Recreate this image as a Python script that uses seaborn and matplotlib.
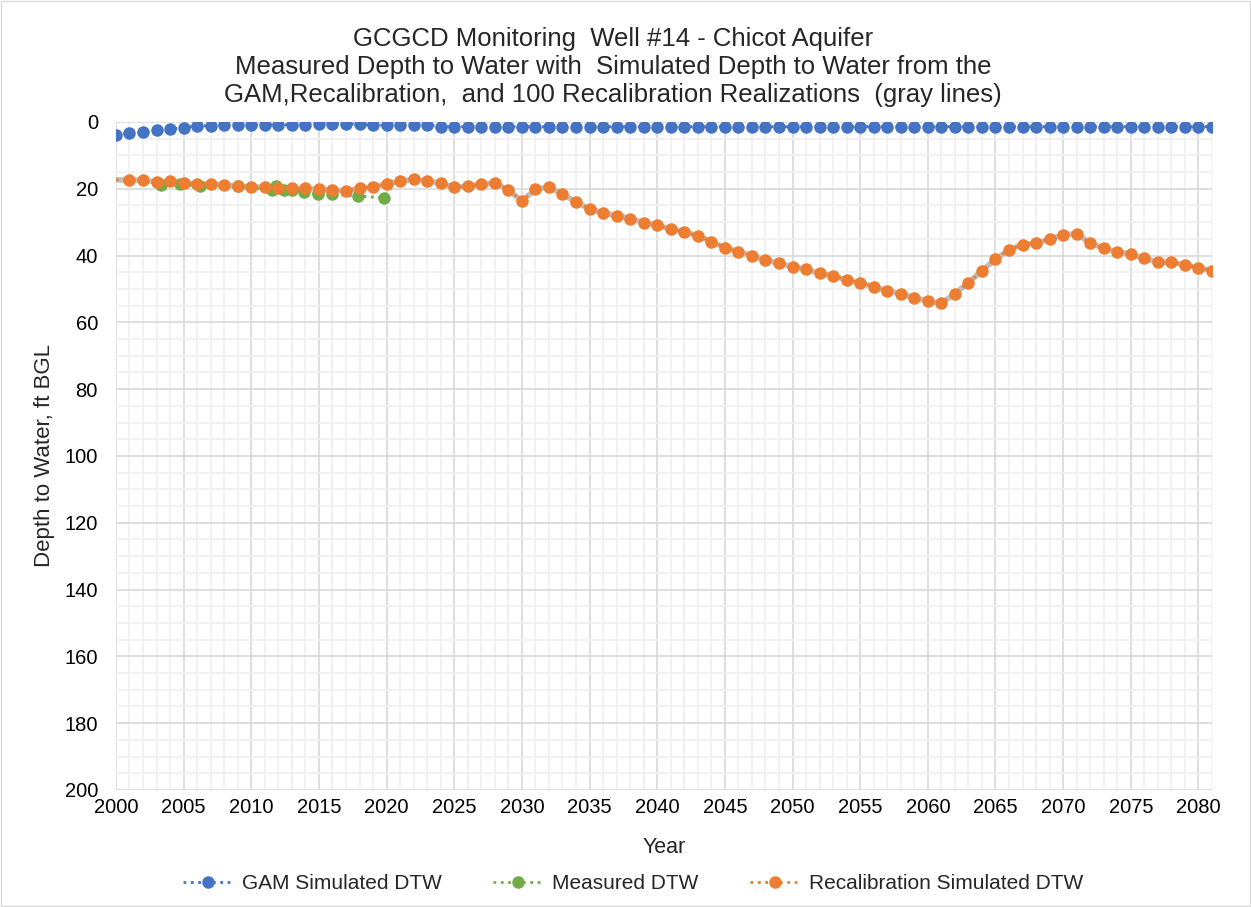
import matplotlib.pyplot as plt
import numpy as np
import pandas as pd
import seaborn as sns
from matplotlib.patches import Rectangle

# Yearly series, 2000-2081
years = list(range(2000, 2082))

gam_dtw = [
    3.9, 3.4, 3.0, 2.5, 2.1, 1.7, 1.2, 1.1, 0.9, 0.9,
    0.9, 0.9, 0.9, 0.8, 0.8, 0.5, 0.5, 0.6, 0.6, 1.0,
    1.0, 0.9, 0.9, 0.9, 1.4, 1.4, 1.4, 1.4, 1.4, 1.4,
    1.4, 1.4, 1.4, 1.4, 1.4, 1.4, 1.4, 1.4, 1.4, 1.4,
    1.4, 1.4, 1.4, 1.4, 1.4, 1.4, 1.4, 1.4, 1.4, 1.4,
    1.4, 1.4, 1.4, 1.4, 1.4, 1.4, 1.4, 1.4, 1.4, 1.4,
    1.4, 1.4, 1.4, 1.4, 1.4, 1.4, 1.4, 1.4, 1.4, 1.4,
    1.4, 1.4, 1.4, 1.4, 1.4, 1.4, 1.4, 1.4, 1.4, 1.4,
    1.4, 1.4,
]

recal_dtw = [
    17.3, 17.4, 17.4, 17.9, 17.8, 18.2, 18.6, 18.6, 19.0, 19.1,
    19.6, 19.4, 19.9, 19.9, 19.9, 20.2, 20.4, 20.6, 19.9, 19.4,
    18.6, 17.7, 17.2, 17.7, 18.2, 19.6, 19.2, 18.7, 18.2, 20.4,
    23.6, 20.2, 19.4, 21.6, 24.0, 26.0, 27.2, 28.0, 28.9, 30.1,
    30.9, 32.1, 32.9, 34.1, 35.8, 37.6, 38.8, 40.0, 41.3, 42.3,
    43.3, 44.1, 45.3, 46.1, 47.3, 48.1, 49.3, 50.6, 51.4, 52.6,
    53.6, 54.3, 51.4, 48.1, 44.5, 41.1, 38.3, 36.7, 36.3, 35.0,
    33.8, 33.4, 36.3, 37.8, 38.8, 39.6, 40.8, 42.0, 42.0, 42.8,
    43.6, 44.5,
]

# Measured depth to water (decimal years)
meas_years = [2003.3, 2004.7, 2006.2, 2009.0, 2011.5, 2011.8, 2012.4,
              2013.0, 2013.9, 2014.9, 2016.0, 2017.9, 2019.8]
meas_dtw = [18.8, 18.7, 19.2, 19.2, 20.4, 19.3, 20.5,
            20.4, 20.9, 21.7, 21.7, 22.2, 22.7]

BLUE = "#4472C4"
GREEN = "#70AD47"
ORANGE = "#ED7D31"

sns.set_theme(style="white")
plt.rcParams["font.family"] = ["Liberation Sans", "DejaVu Sans"]

fig = plt.figure(figsize=(12.51, 9.07), dpi=100)
ax = fig.add_axes([0.0927, 0.129, 0.8761, 0.7365])

sim = pd.DataFrame({"year": years, "gam": gam_dtw, "recal": recal_dtw})
meas = pd.DataFrame({"year": meas_years, "dtw": meas_dtw})

# realizations (gray) under the recalibration series
sns.lineplot(data=sim, x="year", y="recal", color="#bfbfbf", linewidth=4,
             ax=ax, zorder=2)

mk = dict(linestyle=":", linewidth=2, marker="o", markersize=9, markeredgewidth=0)
sns.lineplot(data=sim, x="year", y="gam", color=BLUE,
             label="GAM Simulated DTW", ax=ax, zorder=3, **mk)
sns.lineplot(data=meas, x="year", y="dtw", color=GREEN,
             label="Measured DTW", ax=ax, zorder=3, **mk)
sns.lineplot(data=sim, x="year", y="recal", color=ORANGE,
             markevery=list(range(1, len(years))),
             label="Recalibration Simulated DTW", ax=ax, zorder=4, **mk)

ax.set_xlim(2000, 2081)
ax.set_ylim(200, 0)
ax.set_xticks(np.arange(2000, 2081, 5))
ax.set_xticks(np.arange(2000, 2082, 1), minor=True)
ax.set_yticks(np.arange(0, 201, 20))
ax.set_yticks(np.arange(0, 201, 5), minor=True)
ax.grid(which="major", color="#d9d9d9", linewidth=1.2)
ax.grid(which="minor", color="#f0f0f0", linewidth=1.2)
ax.set_axisbelow(True)
for s in ax.spines.values():
    s.set_visible(False)
ax.tick_params(axis="both", which="both", length=0, labelsize=14.5,
               colors="#000000")
ax.tick_params(axis="x", pad=6)
ax.tick_params(axis="y", pad=13)

ax.set_xlabel("Year", fontsize=15.5, labelpad=14)
ax.set_ylabel("Depth to Water, ft BGL", fontsize=16, labelpad=7)

fig.text(0.49, 1 - 27 / 907,
         "GCGCD Monitoring  Well #14 - Chicot Aquifer\n"
         "Measured Depth to Water with  Simulated Depth to Water from the\n"
         "GAM,Recalibration,  and 100 Recalibration Realizations  (gray lines)",
         ha="center", va="top", fontsize=18.5, linespacing=1.2)

ax.legend(loc="upper center", bbox_to_anchor=(0.506, 0.057),
          bbox_transform=fig.transFigure, ncol=3, frameon=False,
          fontsize=15, handlelength=2.4, columnspacing=2.5,
          handletextpad=0.4)

fig.patches.append(Rectangle((0.001, 0.001), 0.998, 0.998, transform=fig.transFigure,
                             fill=False, edgecolor="#d9d9d9", linewidth=1))

fig.savefig("out.png", dpi=100)
